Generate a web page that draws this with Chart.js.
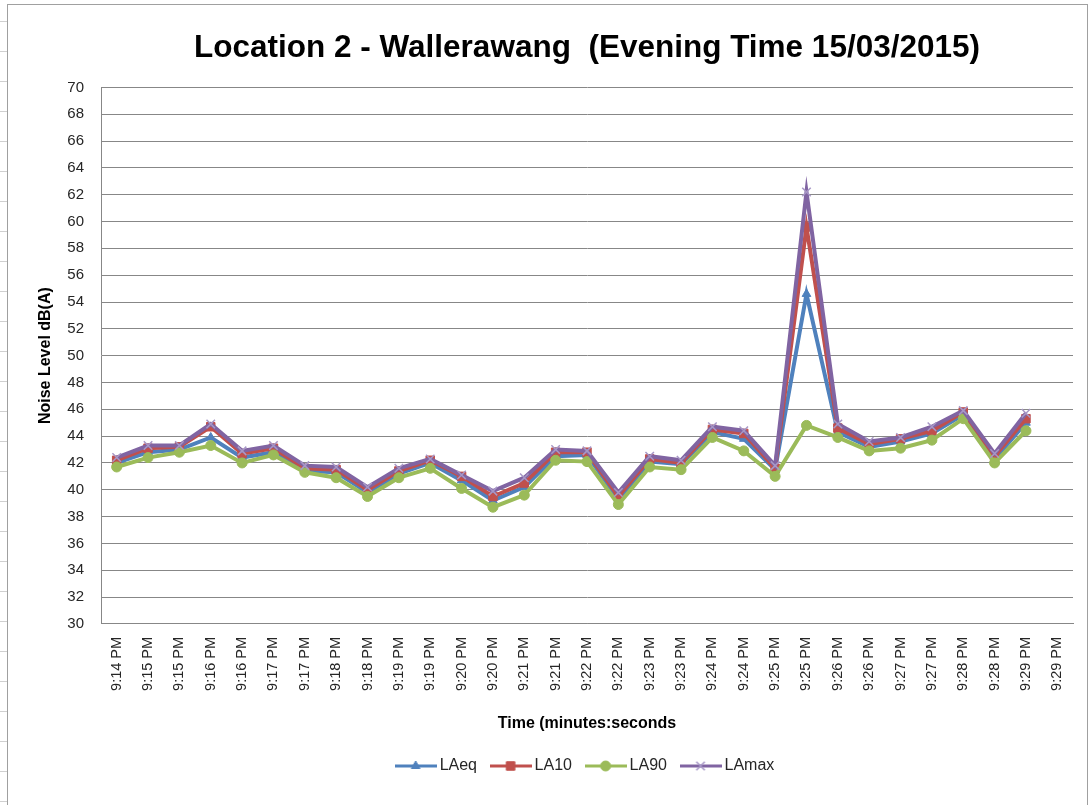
<!DOCTYPE html>
<html>
<head>
<meta charset="utf-8">
<script src="https://cdn.jsdelivr.net/npm/chart.js@4.4.0/dist/chart.umd.min.js"></script>
<style>
  html, body { margin: 0; padding: 0; background: #fff; }
  #wrap { position: relative; width: 1090px; height: 805px; overflow: hidden; }
  #sheet { position: absolute; left: 0; top: 0; width: 7px; height: 805px;
    background: repeating-linear-gradient(to bottom, transparent 0, transparent 21px, #d0d0d0 21px, #d0d0d0 22px, transparent 22px, transparent 30px); }
  #frame { position: absolute; left: 7px; top: 4px; width: 1079px; height: 900px;
    border: 1px solid #a0a0a0; pointer-events: none; }
  canvas { position: absolute; left: 0; top: 0; }
</style>
</head>
<body>
<div id="wrap">
  <div id="sheet"></div>
  <div id="frame"></div>
  <canvas id="chart" width="1090" height="805"></canvas>
</div>
<script>
// ---- data ----
const timeLabels = [
  '9:14 PM', '9:15 PM', '9:15 PM', '9:16 PM', '9:16 PM', '9:17 PM', '9:17 PM',
  '9:18 PM', '9:18 PM', '9:19 PM', '9:19 PM', '9:20 PM', '9:20 PM', '9:21 PM',
  '9:21 PM', '9:22 PM', '9:22 PM', '9:23 PM', '9:23 PM', '9:24 PM', '9:24 PM',
  '9:25 PM', '9:25 PM', '9:26 PM', '9:26 PM', '9:27 PM', '9:27 PM', '9:28 PM',
  '9:28 PM', '9:29 PM', '9:29 PM'
];

const laeq = [42.0, 42.8, 43.0, 43.9, 42.4, 42.8, 41.4, 41.3, 39.8, 41.2,
  42.0, 40.7, 39.2, 40.2, 42.5, 42.6, 39.3, 42.1, 41.9, 44.3,
  43.8, 41.5, 54.6, 44.3, 43.2, 43.6, 44.2, 45.6, 42.3, 45.0];

const la10 = [42.2, 43.1, 43.2, 44.7, 42.7, 43.1, 41.6, 41.5, 40.0, 41.4,
  42.2, 41.0, 39.5, 40.5, 42.8, 42.8, 39.5, 42.3, 42.0, 44.5,
  44.2, 41.6, 59.6, 44.6, 43.4, 43.8, 44.4, 45.8, 42.5, 45.3];

const la90 = [41.7, 42.4, 42.8, 43.3, 42.0, 42.6, 41.3, 40.9, 39.5, 40.9,
  41.6, 40.1, 38.7, 39.6, 42.2, 42.1, 38.9, 41.7, 41.5, 43.9,
  42.9, 41.0, 44.8, 43.9, 42.9, 43.1, 43.7, 45.3, 42.0, 44.4];

const lamax = [42.4, 43.3, 43.3, 44.9, 42.9, 43.3, 41.8, 41.7, 40.2, 41.6,
  42.3, 41.1, 39.9, 40.9, 43.0, 42.9, 39.8, 42.5, 42.2, 44.7,
  44.4, 41.8, 62.2, 44.9, 43.6, 43.9, 44.7, 45.9, 42.7, 45.7];

const titleText = 'Location 2 - Wallerawang  (Evening Time 15/03/2015)';
const FONT = '"Liberation Sans", Arial, sans-serif';
const GRID = '#878787';
const TEXT = '#262626';

// series look (Excel 2007 palette)
const seriesStyle = [
  { label: 'LAeq',  data: laeq,  color: '#4F81BD', point: 'triangle', radius: 5, marker: '#4F81BD' },
  { label: 'LA10',  data: la10,  color: '#C0504D', point: 'rect',     radius: 6, marker: '#C0504D' },
  { label: 'LA90',  data: la90,  color: '#9BBB59', point: 'circle',   radius: 5, marker: '#9BBB59' },
  { label: 'LAmax', data: lamax, color: '#8064A2', point: 'crossRot', radius: 6, marker: '#A797C6' }
];

const datasets = seriesStyle.map((s, i) => ({
  label: s.label,
  data: s.data,
  borderColor: s.color,
  backgroundColor: s.color,
  borderWidth: 4,
  tension: 0,
  pointStyle: s.point,
  pointRadius: s.radius,
  pointBackgroundColor: s.marker,
  pointBorderColor: s.marker,
  pointBorderWidth: s.point === 'crossRot' ? 1.5 : 1,
  order: 3 - i   // later series on top, like Excel
}));

// legend swatch: short line with the marker in the middle
let swatches = null;
function buildSwatches() {
  return seriesStyle.map(s => {
    const c = document.createElement('canvas');
    c.width = 42; c.height = 16;
    const g = c.getContext('2d');
    g.strokeStyle = s.color;
    g.lineWidth = 3;
    g.beginPath(); g.moveTo(0, 8); g.lineTo(42, 8); g.stroke();
    g.fillStyle = s.marker;
    g.strokeStyle = s.marker;
    const bw = s.point === 'crossRot' ? 1.5 : 1;
    g.lineWidth = bw;
    Chart.helpers.drawPoint(g, { pointStyle: s.point, radius: s.radius, rotation: 0, borderWidth: bw }, 21, 8);
    return c;
  });
}

const ctx = document.getElementById('chart').getContext('2d');
new Chart(ctx, {
  type: 'line',
  data: { labels: timeLabels, datasets },
  options: {
    responsive: false,
    animation: false,
    layout: { padding: { left: 32, right: 17, top: 0, bottom: 21 } },
    plugins: {
      title: {
        display: true,
        fullSize: false,
        text: titleText,
        color: '#000',
        font: { family: FONT, size: 31.5, weight: 'bold' },
        padding: { top: 29, bottom: 20.6 }
      },
      legend: {
        position: 'bottom',
        fullSize: false,
        labels: {
          usePointStyle: true,
          pointStyleWidth: 32,
          padding: 17.6,
          color: TEXT,
          font: { family: FONT, size: 16 },
          generateLabels(chart) {
            if (!swatches) swatches = buildSwatches();
            const items = Chart.defaults.plugins.legend.labels.generateLabels(chart);
            items.sort((a, b) => a.datasetIndex - b.datasetIndex);
            items.forEach(it => { it.pointStyle = swatches[it.datasetIndex]; });
            return items;
          }
        }
      },
      tooltip: { enabled: false }
    },
    scales: {
      x: {
        offset: true,
        grid: { display: false, drawTicks: false },
        border: { color: GRID, width: 1 },
        ticks: {
          autoSkip: false,
          minRotation: 90,
          maxRotation: 90,
          padding: 13,
          color: TEXT,
          font: { family: FONT, size: 14.5 }
        },
        title: {
          display: true,
          text: 'Time (minutes:seconds',
          color: '#000',
          font: { family: FONT, size: 16, weight: 'bold' },
          padding: { top: 0, bottom: 7.5 }
        },
        afterFit(scale) { scale.height = 116.5; }
      },
      y: {
        min: 30,
        max: 70,
        grid: { color: GRID, drawTicks: false },
        border: { color: GRID, width: 1 },
        ticks: {
          stepSize: 2,
          padding: 17,
          color: TEXT,
          font: { family: FONT, size: 15 }
        },
        title: {
          display: true,
          text: 'Noise Level dB(A)',
          color: '#000',
          font: { family: FONT, size: 16, weight: 'bold' },
          padding: { top: 4, bottom: 4 }
        },
        afterFit(scale) { scale.width = 69; }
      }
    }
  }
});
</script>
</body>
</html>
